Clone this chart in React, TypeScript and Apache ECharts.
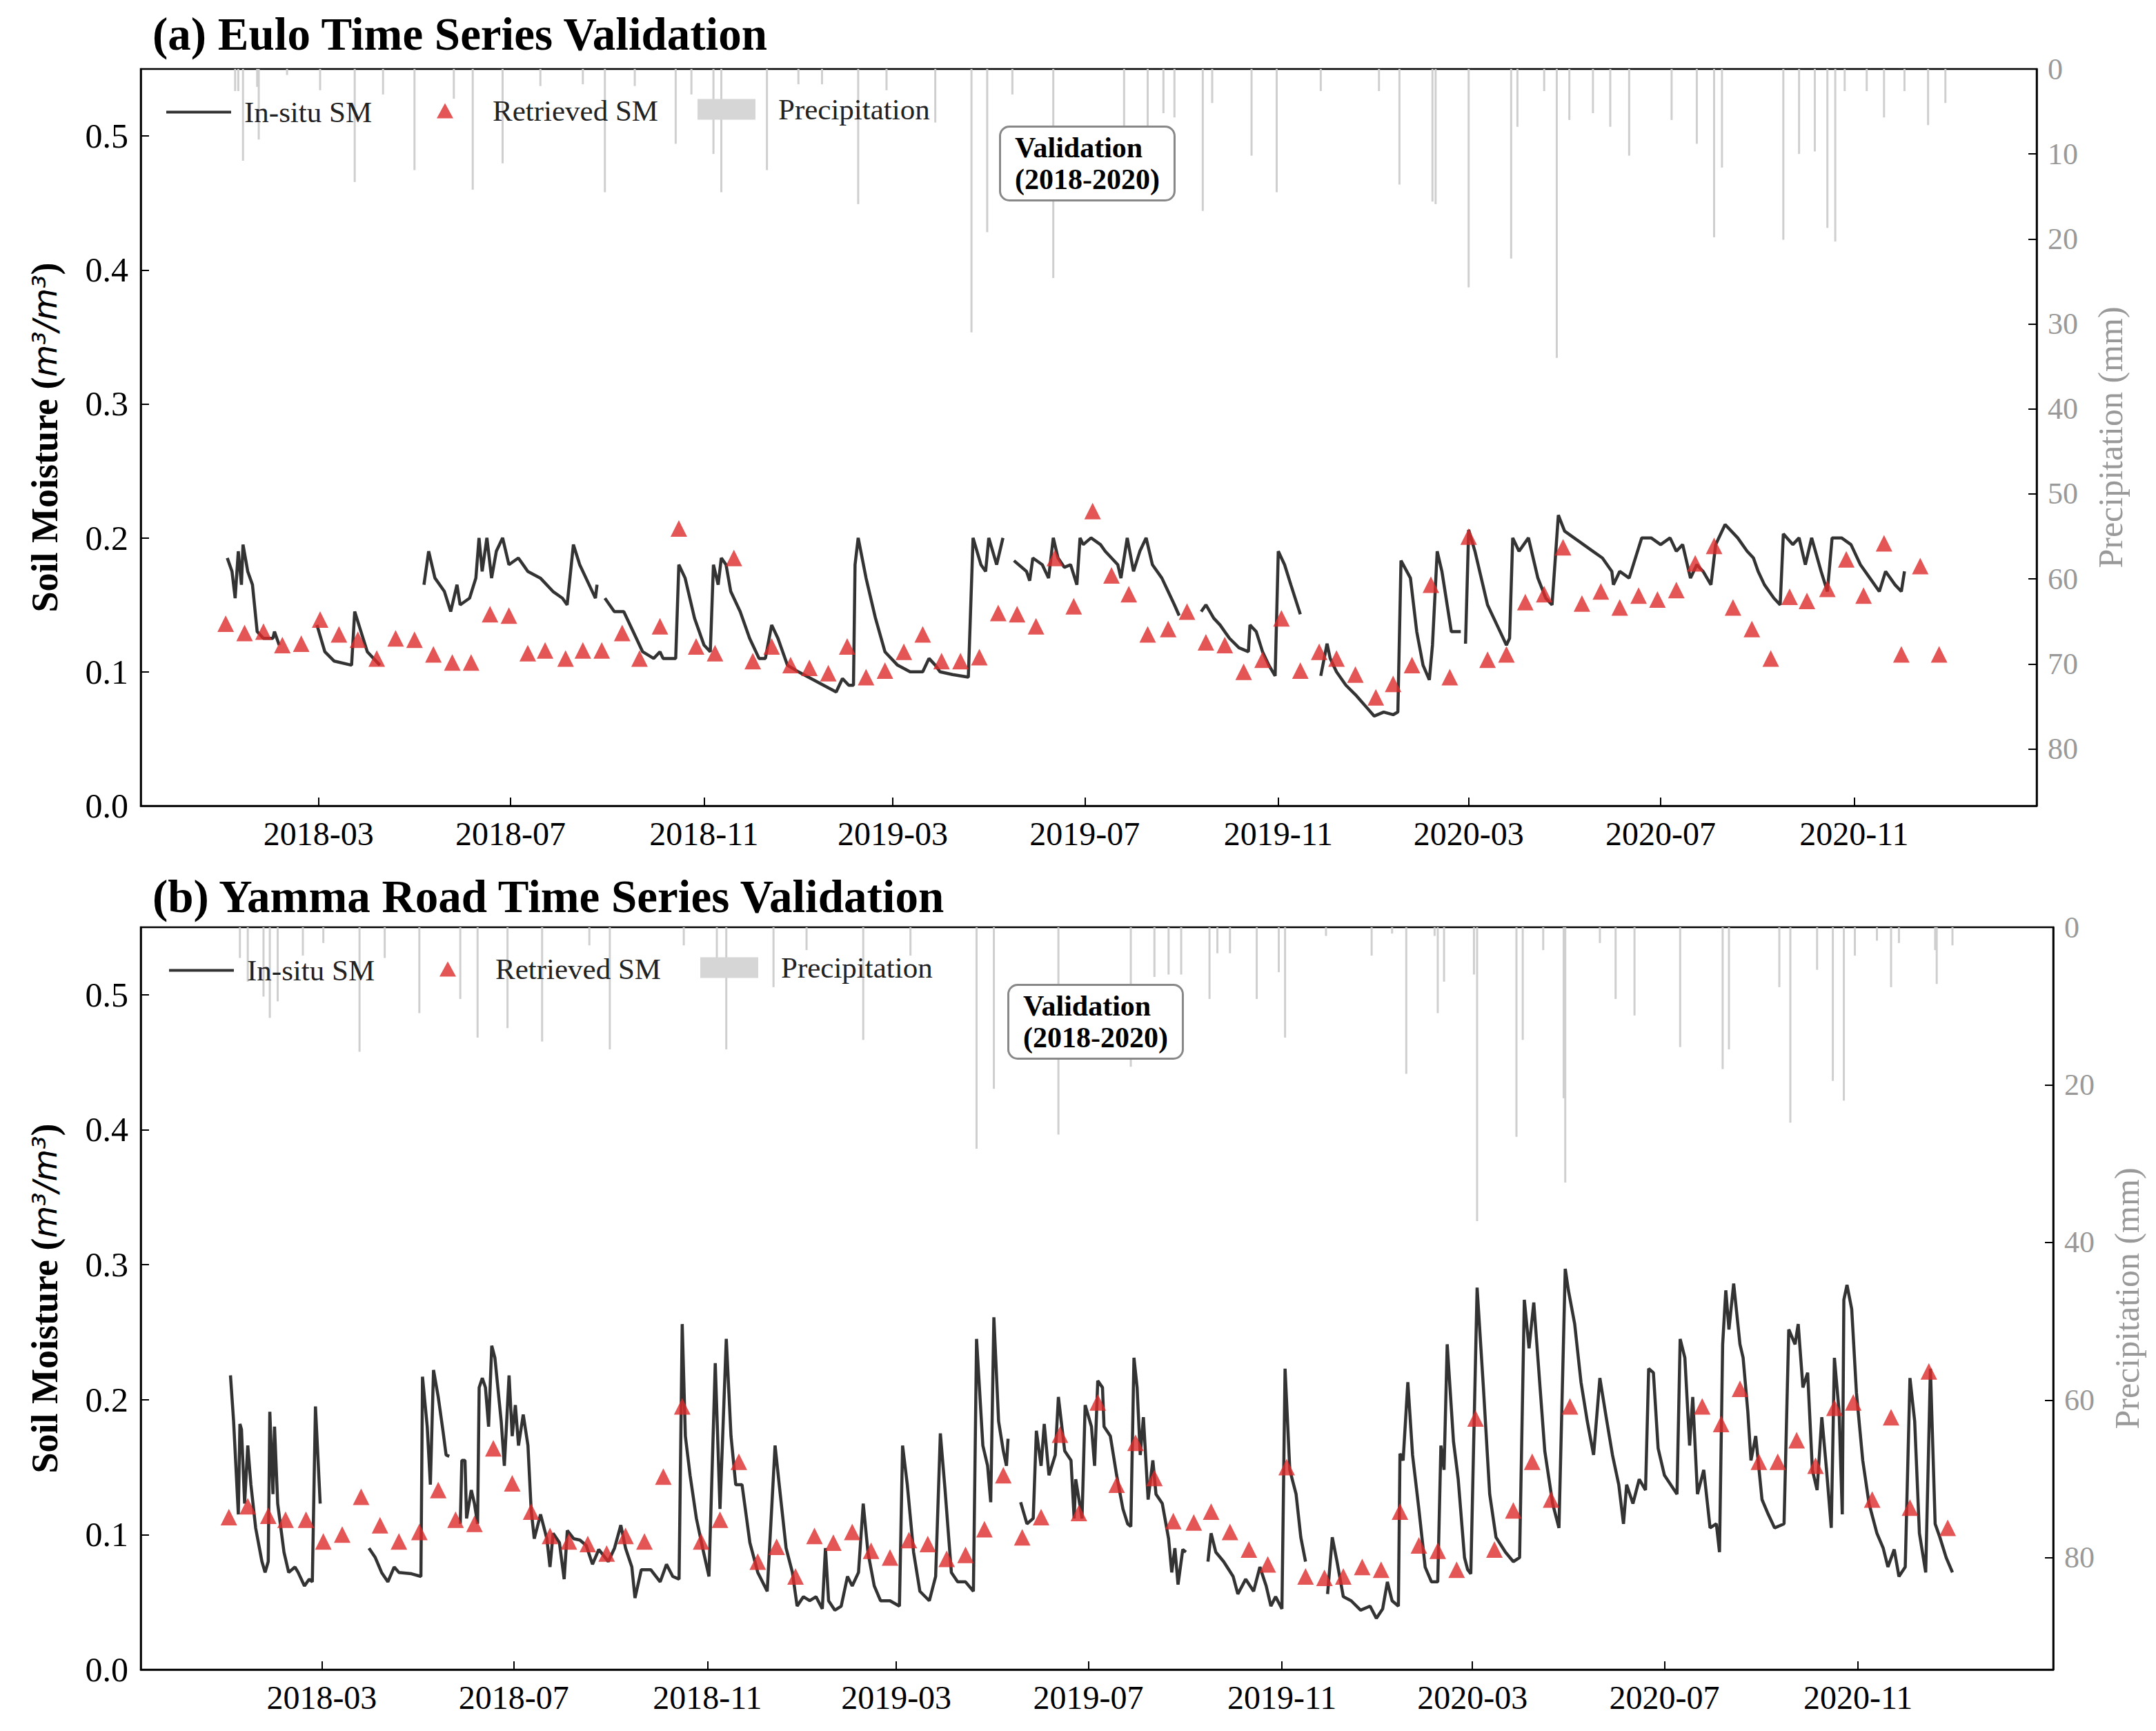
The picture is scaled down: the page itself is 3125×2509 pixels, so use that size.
import { useEffect, useRef } from "react";
import * as echarts from "echarts";

// x values are days counted from 2018-01-01
const tickDays = [59, 181, 304, 424, 546, 669, 790, 912, 1035];
const tickLabels = ["2018-03", "2018-07", "2018-11", "2019-03", "2019-07", "2019-11", "2020-03", "2020-07", "2020-11"];

const euloInsitu: number[][][] = [
  [[1,0.185],[4,0.175],[6,0.155],[8,0.19],[10,0.165],[11,0.195],[14,0.175],[17,0.165],[20,0.13],[24,0.125],[30,0.125],[31,0.13],[34,0.12]],
  [[58,0.135],[63,0.115],[69,0.108],[80,0.105],[82,0.145],[86,0.13],[90,0.115],[98,0.105]],
  [[126,0.165],[129,0.19],[133,0.17],[139,0.16],[143,0.145],[147,0.165],[149,0.15],[155,0.155],[159,0.17],[161,0.2],[163,0.175],[166,0.2],[169,0.17],[172,0.19],[176,0.2],[180,0.18],[186,0.185],[192,0.175],[200,0.17],[208,0.16],[214,0.155],[217,0.15],[221,0.195],[225,0.18],[231,0.165],[235,0.155],[236,0.165]],
  [[241,0.155],[247,0.145],[253,0.145],[259,0.13],[265,0.115],[272,0.11],[276,0.115],[278,0.11],[286,0.11],[288,0.18],[292,0.17],[298,0.14],[304,0.12],[308,0.115],[310,0.18],[313,0.165],[315,0.185],[318,0.18],[321,0.16],[327,0.145],[333,0.125],[339,0.11],[343,0.11],[347,0.135],[351,0.125],[357,0.105],[364,0.1],[372,0.095],[380,0.09],[388,0.085],[392,0.095],[396,0.09],[399,0.09],[400,0.18],[402,0.2],[407,0.17],[413,0.14],[419,0.115],[427,0.105],[435,0.1],[443,0.1],[447,0.11],[451,0.105],[454,0.1],[462,0.098],[472,0.096],[475,0.2],[480,0.18],[483,0.175],[485,0.2],[490,0.18],[494,0.2]],
  [[501,0.183],[509,0.175],[511,0.168],[513,0.185],[519,0.18],[523,0.17],[526,0.2],[529,0.185],[533,0.178],[537,0.18],[541,0.165],[543,0.2],[545,0.195],[550,0.2],[556,0.195],[559,0.19],[567,0.18],[569,0.17],[573,0.2],[577,0.175],[581,0.19],[585,0.2],[589,0.18],[595,0.17],[599,0.16],[603,0.15],[606,0.142]],
  [[620,0.145],[623,0.15],[628,0.14],[632,0.135],[638,0.125],[644,0.118],[650,0.115],[651,0.135],[655,0.13],[659,0.115],[663,0.105],[667,0.097],[669,0.19],[673,0.18],[677,0.165],[683,0.143]],
  [[696,0.097],[700,0.121],[702,0.11],[706,0.1],[712,0.09],[718,0.083],[724,0.075],[730,0.067],[736,0.07],[742,0.068],[745,0.07],[747,0.183],[753,0.17],[757,0.13],[761,0.105],[765,0.094],[767,0.12],[770,0.19],[773,0.175],[779,0.13],[785,0.13]],
  [[788,0.121],[790,0.206],[794,0.19],[799,0.165],[802,0.15],[808,0.135],[814,0.12],[816,0.125],[818,0.2],[822,0.19],[828,0.2],[834,0.17],[839,0.155],[843,0.15],[847,0.217],[851,0.205],[857,0.2],[863,0.195],[869,0.19],[875,0.185],[881,0.175],[882,0.165],[886,0.175],[892,0.17],[900,0.2],[906,0.2],[912,0.195],[918,0.2],[922,0.19],[926,0.195],[931,0.17],[935,0.18],[939,0.175],[944,0.165],[947,0.195],[953,0.21],[961,0.2],[967,0.19],[971,0.185],[974,0.175],[978,0.165],[984,0.155],[988,0.15],[990,0.203],[996,0.195],[1000,0.2],[1004,0.18],[1008,0.2],[1014,0.175],[1018,0.16],[1021,0.2],[1027,0.2],[1033,0.195],[1039,0.18],[1045,0.17],[1051,0.16],[1055,0.175],[1061,0.165],[1065,0.16],[1067,0.175]],
];

const euloRetrieved: number[][] = [
  [0,0.136],[12,0.129],[24,0.13],[36,0.12],[48,0.121],[60,0.139],[72,0.128],[84,0.124],[96,0.11],[108,0.125],[120,0.124],[132,0.113],[144,0.107],[156,0.107],[168,0.143],[180,0.142],[192,0.114],[203,0.116],[216,0.11],[227,0.116],[239,0.116],[252,0.129],[263,0.11],[276,0.134],[288,0.207],[299,0.119],[311,0.114],[323,0.185],[335,0.108],[347,0.119],[359,0.105],[371,0.103],[383,0.099],[395,0.119],[407,0.096],[419,0.101],[431,0.115],[443,0.128],[455,0.108],[467,0.108],[479,0.111],[491,0.144],[503,0.143],[515,0.134],[527,0.185],[539,0.149],[551,0.22],
  [563,0.172],[574,0.158],[586,0.128],[599,0.132],[611,0.145],[623,0.122],[635,0.12],[647,0.1],[659,0.109],[671,0.14],[683,0.101],[695,0.115],[706,0.11],[718,0.098],[731,0.081],[742,0.091],[754,0.105],[766,0.165],[778,0.096],[790,0.201],[802,0.109],[814,0.113],[826,0.152],[838,0.158],[850,0.193],[862,0.151],[874,0.16],[886,0.148],[898,0.157],[910,0.154],[922,0.161],[934,0.181],[946,0.194],[958,0.148],[970,0.132],[982,0.11],[994,0.156],[1005,0.153],[1018,0.162],[1030,0.184],[1041,0.157],[1054,0.196],[1065,0.113],[1077,0.179],[1089,0.113],
];

const euloPrecip: number[][] = [
  [6,2.6],[8,2.6],[11,10.8],[20,2.1],[21,8.3],[39,0.7],[60,2.5],[82,13.3],[100,3],[120,11.9],[145,3.5],[157,14.2],[176,11.1],[200,2],[227,1.8],[241,14.5],[260,2],[286,8.8],[296,3],[310,10],[315,14.5],[344,11.9],[364,1.8],[379,1.8],[402,15.9],[420,2.5],[451,6.3],[474,31],[484,19.2],[500,3],[526,24.6],
  [571,13.9],[586,7],[596,5.2],[603,5.7],[621,16.7],[627,4],[652,10.2],[668,14.5],[696,2.6],[733,2.6],[746,13.6],[767,15.6],[769,15.9],[790,25.7],[817,22.3],[821,6.8],[838,2.6],[846,34],[854,6],[869,5.2],[880,6.8],[892,10.2],[919,6],[935,8.8],[946,19.8],[951,11.6],[990,20.1],[1000,10],[1010,9.7],[1018,18.7],[1023,20.3],[1029,2.6],[1043,2.6],[1054,5.7],[1067,2.6],[1082,6.6],[1093,4],
];

const yammaInsitu: number[][][] = [
  [[1,0.218],[3,0.184],[6,0.115],[7,0.182],[8,0.178],[10,0.123],[12,0.166],[14,0.137],[17,0.105],[21,0.08],[23,0.072],[25,0.08],[26,0.191],[28,0.13],[29,0.18],[31,0.123],[35,0.087],[38,0.072],[42,0.076],[44,0.072],[48,0.062],[51,0.067],[53,0.065],[55,0.195],[58,0.123]],
  [[89,0.09],[93,0.083],[97,0.072],[101,0.065],[105,0.076],[108,0.072],[116,0.071],[122,0.069],[123,0.217],[126,0.18],[128,0.137],[130,0.222],[133,0.202],[136,0.177],[138,0.159],[140,0.158]],
  [[147,0.108],[148,0.155],[150,0.155],[151,0.112],[154,0.133],[156,0.123],[158,0.108],[159,0.209],[161,0.216],[163,0.209],[165,0.18],[167,0.24],[169,0.231],[173,0.184],[175,0.151],[178,0.218],[180,0.173],[182,0.196],[184,0.166],[187,0.189],[190,0.166],[192,0.119],[194,0.097],[198,0.115],[202,0.097],[204,0.076],[206,0.101],[210,0.094],[213,0.067],[215,0.103],[219,0.097],[223,0.096],[227,0.092],[231,0.078],[235,0.089],[241,0.08],[245,0.09],[249,0.107],[252,0.09],[256,0.076],[258,0.053],[262,0.074],[268,0.074],[274,0.065],[278,0.078],[282,0.069],[286,0.067],[288,0.256],[290,0.173],[293,0.144],[297,0.112],[301,0.09],[305,0.069],[309,0.227],[312,0.119],[316,0.245],[319,0.173],[322,0.137],[326,0.137],[331,0.094],[336,0.072],[342,0.058],[347,0.166],[350,0.133],[354,0.09],[358,0.072],[361,0.047],[365,0.054],[369,0.051],[373,0.054],[377,0.045],[379,0.09],[381,0.051],[385,0.044],[389,0.047],[393,0.069],[396,0.062],[400,0.072],[403,0.123],[406,0.087],[410,0.062],[414,0.051],[420,0.051],[426,0.047],[428,0.166],[431,0.137],[435,0.087],[439,0.058],[445,0.051],[449,0.069],[452,0.175],[455,0.133],[459,0.072],[463,0.065],[468,0.065],[473,0.058],[475,0.245],[479,0.166],[482,0.151],[484,0.124],[486,0.261],[489,0.184],[492,0.162],[494,0.151],[495,0.171]],
  [[503,0.124],[507,0.108],[511,0.112],[513,0.177],[516,0.151],[518,0.182],[521,0.144],[525,0.159],[527,0.202],[531,0.162],[535,0.155],[537,0.112],[538,0.141],[542,0.112],[544,0.196],[548,0.18],[550,0.151],[552,0.214],[555,0.209],[556,0.18],[560,0.173],[564,0.144],[568,0.119],[571,0.108],[573,0.106],[575,0.231],[577,0.209],[579,0.159],[581,0.187],[584,0.126],[587,0.155],[589,0.13],[593,0.123],[597,0.097],[599,0.072],[601,0.09],[603,0.063],[606,0.089],[608,0.087]],
  [[622,0.08],[624,0.101],[627,0.087],[632,0.08],[638,0.069],[641,0.056],[646,0.067],[651,0.058],[655,0.076],[659,0.062],[662,0.047],[665,0.054],[669,0.045],[671,0.223],[674,0.148],[678,0.13],[681,0.098],[684,0.08]],
  [[698,0.056],[701,0.098],[704,0.08],[708,0.054],[713,0.051],[719,0.044],[725,0.047],[729,0.038],[733,0.045],[736,0.065],[739,0.051],[743,0.047],[744,0.16],[746,0.155],[749,0.213],[752,0.159],[756,0.119],[760,0.076],[764,0.065],[768,0.065],[770,0.166],[772,0.148],[774,0.241],[778,0.169],[781,0.141],[785,0.083],[787,0.074],[789,0.071],[793,0.283],[797,0.209],[801,0.13],[805,0.098],[811,0.087],[816,0.08],[820,0.083],[823,0.274],[826,0.238],[829,0.272],[833,0.209],[836,0.162],[841,0.123],[845,0.105],[849,0.297],[851,0.281],[855,0.256],[859,0.213],[863,0.184],[867,0.159],[871,0.216],[875,0.187],[879,0.159],[883,0.137],[886,0.108],[888,0.137],[892,0.123],[896,0.141],[900,0.133],[902,0.223],[905,0.22],[908,0.164],[912,0.144],[916,0.137],[920,0.13],[922,0.245],[925,0.231],[928,0.166],[930,0.202],[933,0.13],[937,0.148],[941,0.105],[945,0.108],[947,0.087],[949,0.241],[951,0.281],[953,0.252],[956,0.286],[960,0.241],[962,0.231],[965,0.191],[967,0.155],[970,0.173],[974,0.126],[978,0.115],[982,0.105],[988,0.108],[991,0.252],[995,0.241],[997,0.256],[1000,0.209],[1003,0.22],[1006,0.148],[1009,0.133],[1012,0.187],[1015,0.148],[1018,0.105],[1020,0.231],[1023,0.191],[1025,0.115],[1026,0.274],[1028,0.285],[1031,0.267],[1034,0.205],[1038,0.155],[1042,0.123],[1047,0.101],[1051,0.09],[1054,0.076],[1058,0.089],[1061,0.069],[1065,0.076],[1068,0.216],[1071,0.184],[1074,0.101],[1078,0.072],[1081,0.223],[1084,0.108],[1087,0.098],[1091,0.083],[1095,0.072]],
];

const yammaRetrieved: number[][] = [
  [0,0.113],[12,0.121],[25,0.114],[36,0.111],[49,0.111],[60,0.095],[72,0.1],[84,0.128],[96,0.107],[108,0.095],[121,0.102],[133,0.133],[144,0.111],[156,0.108],[168,0.164],[180,0.138],[192,0.117],[204,0.099],[216,0.095],[228,0.093],[240,0.086],[252,0.099],[264,0.095],[276,0.143],[288,0.195],[300,0.095],[312,0.111],[324,0.154],[336,0.08],[348,0.091],[360,0.069],[372,0.099],[384,0.094],[396,0.102],[408,0.088],[420,0.083],[432,0.096],[444,0.093],[456,0.082],[468,0.085],[480,0.104],[492,0.144],[504,0.098],[516,0.113],[528,0.174],[540,0.116],[552,0.198],
  [564,0.137],[576,0.168],[588,0.142],[600,0.11],[613,0.109],[624,0.117],[636,0.102],[648,0.089],[660,0.078],[672,0.15],[684,0.069],[696,0.068],[708,0.069],[720,0.076],[732,0.074],[744,0.117],[756,0.092],[768,0.088],[780,0.074],[792,0.186],[804,0.089],[816,0.118],[828,0.154],[840,0.126],[852,0.195],[936,0.195],[948,0.182],[960,0.208],[972,0.154],[984,0.154],[996,0.17],[1008,0.151],[1020,0.194],[1032,0.198],[1044,0.126],[1056,0.187],[1068,0.12],[1080,0.221],[1092,0.105],
];

const yammaPrecip: number[][] = [
  [7,3.9],[12,6.9],[22,8.8],[26,11.5],[31,9.4],[47,3.6],[60,2],[83,15.8],[99,3.9],[121,10.9],[147,9.1],[158,14],[177,12.8],[199,14.5],[229,2.3],[242,15.5],[289,2.3],[310,3.9],[316,15.5],[346,7.6],[367,2.9],[403,14.3],[433,3.6],[475,28.1],[486,20.5],[527,26.3],
  [573,17.7],[588,6.3],[597,6],[605,6],[623,9.1],[628,3.3],[636,3.3],[653,9.1],[667,5.7],[671,14],[697,1.1],[726,3.6],[739,0.8],[748,18.6],[766,1.1],[768,10.9],[772,6.9],[791,6],[793,37.3],[818,26.6],[822,14.3],[835,2.9],[848,21.7],[849,32.4],[871,2],[881,9.1],[893,11.2],[922,15.2],[949,18],[953,15.5],[985,7.6],[992,24.8],[1009,5.4],[1019,19.5],[1026,22],[1033,3.6],[1047,1.7],[1056,7.6],[1061,2],[1084,2.9],[1085,7.2],[1095,2.3],
];

const FONT = "Liberation Serif";
const LINE_C = "#333333";
const TRI_C = "#dd2b2b";
const BAR_C = "#cfcfcf";

function panel(idx: number, insitu: number[][][], retrieved: number[][], precip: number[][]) {
  const series: any[] = insitu.map((seg) => ({
    name: "In-situ SM",
    type: "line",
    xAxisIndex: idx,
    yAxisIndex: idx * 2,
    data: seg,
    showSymbol: false,
    symbol: "none",
    lineStyle: { color: LINE_C, width: 4.5 },
    itemStyle: { color: LINE_C },
    z: 3,
  }));
  series.push({
    name: "Retrieved SM",
    type: "scatter",
    xAxisIndex: idx,
    yAxisIndex: idx * 2,
    data: retrieved,
    symbol: "triangle",
    symbolSize: 24,
    itemStyle: { color: TRI_C },
    z: 4,
  });
  series.push({
    name: "Precipitation",
    type: "bar",
    xAxisIndex: idx,
    yAxisIndex: idx * 2 + 1,
    data: precip,
    barWidth: 3,
    itemStyle: { color: BAR_C },
    z: 1,
  });
  return series;
}

export default function App() {
  const ref = useRef<HTMLDivElement>(null);

  useEffect(() => {
    if (!ref.current) return;
    document.body.style.margin = "0";
    const chart = echarts.init(ref.current, null, { renderer: "svg" });

    const grids = [
      { left: 204, top: 100, width: 2748, height: 1068 },
      { left: 204, top: 1344, width: 2772, height: 1076 },
    ];
    const xRanges = [[-54, 1151], [-56, 1159]];
    const rightMax = [86.7, 94.2];
    const rightInterval = [10, 20];

    const xAxis = grids.map((_, i) => ({
      type: "value",
      gridIndex: i,
      min: xRanges[i][0],
      max: xRanges[i][1],
      splitLine: { show: false },
      axisLine: { show: true, onZero: false, lineStyle: { color: "#000", width: 2.5 } },
      axisTick: { show: true, inside: true, length: 12, lineStyle: { color: "#000", width: 2 }, customValues: tickDays },
      axisLabel: {
        customValues: tickDays,
        formatter: (v: number) => tickLabels[tickDays.indexOf(Math.round(v))] ?? "",
        fontFamily: FONT,
        fontSize: 48,
        color: "#000",
        margin: 16,
      },
    }));

    const yAxis: any[] = [];
    grids.forEach((_, i) => {
      yAxis.push({
        type: "value",
        gridIndex: i,
        min: 0,
        max: 0.55,
        interval: 0.1,
        name: "{b|Soil Moisture (}{i|m³/m³}{b|)}",
        nameLocation: "middle",
        nameGap: 112,
        nameTextStyle: {
          rich: {
            b: { fontFamily: FONT, fontWeight: "bold", fontSize: 54, color: "#000" },
            i: { fontFamily: "DejaVu Sans", fontStyle: "italic", fontSize: 48, color: "#000" },
          },
        },
        splitLine: { show: false },
        axisLine: { show: true, onZero: false, lineStyle: { color: "#000", width: 2.5 } },
        axisTick: { show: true, inside: true, length: 12, lineStyle: { color: "#000", width: 2 } },
        axisLabel: {
          formatter: (v: number) => v.toFixed(1),
          showMaxLabel: false,
          fontFamily: FONT,
          fontSize: 50,
          color: "#000",
          margin: 18,
        },
      });
      yAxis.push({
        type: "value",
        gridIndex: i,
        position: "right",
        inverse: true,
        min: 0,
        max: rightMax[i],
        interval: rightInterval[i],
        name: "Precipitation (mm)",
        nameLocation: "middle",
        nameGap: 82,
        nameTextStyle: { fontFamily: FONT, fontSize: 50, color: "#999" },
        splitLine: { show: false },
        axisLine: { show: true, onZero: false, lineStyle: { color: "#000", width: 2.5 } },
        axisTick: { show: true, inside: true, length: 12, lineStyle: { color: "#000", width: 2 } },
        axisLabel: { showMaxLabel: false, fontFamily: FONT, fontSize: 44, color: "#999", margin: 16 },
      });
    });

    // one legend component per item so each icon can have its own size
    const legendText = { fontFamily: FONT, fontSize: 43, color: "#222" };
    const legend: any[] = [];
    [[136, 236], [1380, 240]].forEach(([top, left]) => {
      legend.push(
        { top, left, itemWidth: 94, itemHeight: 4, itemGap: 0, textStyle: { ...legendText, padding: [0, 0, 0, 14] }, selectedMode: false,
          data: [{ name: "In-situ SM", icon: "rect", itemStyle: { color: LINE_C } }] },
        { top: top - 2, left: left + 392, itemWidth: 24, itemHeight: 22, textStyle: { ...legendText, padding: [0, 0, 0, 52] }, selectedMode: false,
          data: [{ name: "Retrieved SM", icon: "triangle", itemStyle: { color: TRI_C } }] },
        { top: top - 4, left: left + 770, itemWidth: 84, itemHeight: 30, textStyle: { ...legendText, padding: [0, 0, 0, 28] }, selectedMode: false,
          data: [{ name: "Precipitation", icon: "rect", itemStyle: { color: "#d6d6d6" } }] },
      );
    });

    const box = (cx: number, cy: number) => ({
      type: "text",
      left: cx - 124,
      top: cy - 50,
      style: {
        text: "Validation\n(2018-2020)",
        fontFamily: FONT,
        fontWeight: "bold",
        fontSize: 42,
        fill: "#000",
        align: "center",
        lineHeight: 46,
        backgroundColor: "#fff",
        borderColor: "#888",
        borderWidth: 3,
        borderRadius: 12,
        padding: [6, 20, 6, 20],
      },
      z: 10,
    });

    chart.setOption({
      animation: false,
      backgroundColor: "#fff",
      title: [
        { text: "(a) Eulo Time Series Validation", left: 216, top: 10, textStyle: { fontFamily: FONT, fontWeight: "bold", fontSize: 67, color: "#000" } },
        { text: "(b) Yamma Road Time Series Validation", left: 216, top: 1260, textStyle: { fontFamily: FONT, fontWeight: "bold", fontSize: 67, color: "#000" } },
      ],
      grid: grids.map((g) => ({ ...g, show: true, borderColor: "#000", borderWidth: 2.5, backgroundColor: "transparent" })),
      legend,
      xAxis,
      yAxis,
      series: [...panel(0, euloInsitu, euloRetrieved, euloPrecip), ...panel(1, yammaInsitu, yammaRetrieved, yammaPrecip)],
      graphic: [box(1572, 232), box(1584, 1476)],
    });

    return () => chart.dispose();
  }, []);

  return <div ref={ref} style={{ width: "3125px", height: "2509px" }} />;
}
